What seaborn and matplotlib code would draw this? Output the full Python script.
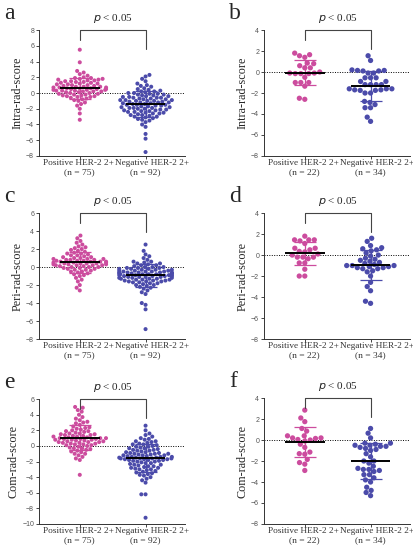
import numpy as np
import pandas as pd
import matplotlib
matplotlib.use("Agg")
import matplotlib.pyplot as plt
import matplotlib.transforms as mtransforms
import seaborn as sns

# groups and sizes
groups = ["Positive HER-2 2+", "Negative HER-2 2+"]
n_big = [75, 92]
n_small = [22, 34]

# a: intra-rad-score, training set
a_pos = [5.5, 3.9, 2.8, 2.6, 2.4, 2.2, 2.0, 1.9, 1.9, 1.8,
         1.8, 1.7, 1.7, 1.6, 1.6, 1.5, 1.5, 1.4, 1.4, 1.3,
         1.3, 1.2, 1.2, 1.1, 1.1, 1.0, 1.0, 0.9, 0.9, 0.8,
         0.8, 0.8, 0.7, 0.7, 0.7, 0.6, 0.6, 0.6, 0.5, 0.5,
         0.5, 0.4, 0.4, 0.4, 0.3, 0.3, 0.3, 0.2, 0.2, 0.2,
         0.1, 0.1, 0.0, 0.0, -0.1, -0.1, -0.2, -0.2, -0.3, -0.3,
         -0.4, -0.4, -0.5, -0.5, -0.6, -0.7, -0.8, -0.9, -1.0, -1.2,
         -1.4, -1.6, -2.0, -2.6, -3.4]
a_neg = [2.3, 2.1, 1.8, 1.5, 1.2, 1.0, 0.9, 0.8, 0.6, 0.5,
         0.4, 0.3, 0.2, 0.1, 0.0, 0.0, -0.1, -0.2, -0.2, -0.3,
         -0.4, -0.4, -0.5, -0.5, -0.6, -0.6, -0.7, -0.7, -0.8, -0.8,
         -0.9, -0.9, -1.0, -1.0, -1.0, -1.1, -1.1, -1.2, -1.2, -1.2,
         -1.3, -1.3, -1.4, -1.4, -1.5, -1.5, -1.6, -1.6, -1.7, -1.7,
         -1.8, -1.8, -1.9, -1.9, -2.0, -2.0, -2.1, -2.1, -2.2, -2.2,
         -2.3, -2.3, -2.4, -2.5, -2.5, -2.6, -2.6, -2.7, -2.8, -2.8,
         -2.9, -3.0, -3.0, -3.1, -3.2, -3.3, -3.4, -3.5, -3.7, -4.0,
         -4.3, -5.2, -5.8, -7.5, -0.3, -0.1, 0.2, -1.5, -0.9, -0.6,
         -1.9, -2.4]

# b: intra-rad-score, validation set
b_pos = [1.8, 1.65, 1.55, 1.4, 0.85, 0.8, 0.6, 0.4, 0.4, 0.0, -0.1,
         -0.1, -0.15, -0.15, -0.15, -0.5, -1.0, -1.0, -1.0, -1.35, -2.5, -2.6]
b_neg = [1.55, 1.1, 0.2, 0.15, 0.15, 0.1, 0.1, -0.1, -0.1, -0.55, -0.55,
         -0.55, -0.9, -0.9, -1.2, -1.2, -1.2, -1.2, -1.6, -1.6, -1.7, -1.7,
         -1.75, -1.75, -1.6, -2.0, -2.0, -2.8, -2.9, -3.1, -3.4, -3.4, -4.3, -4.7]

# c: peri-rad-score, training set
c_pos = [3.5, 3.2, 2.9, 2.7, 2.5, 2.3, 2.1, 2.0, 1.9, 1.8,
         1.7, 1.6, 1.5, 1.4, 1.3, 1.2, 1.1, 1.0, 1.0, 0.9,
         0.9, 0.8, 0.8, 0.7, 0.7, 0.7, 0.6, 0.6, 0.6, 0.5,
         0.5, 0.5, 0.4, 0.4, 0.4, 0.3, 0.3, 0.3, 0.2, 0.2,
         0.2, 0.1, 0.1, 0.0, 0.0, -0.1, -0.1, -0.2, -0.2, -0.3,
         -0.3, -0.4, -0.5, -0.6, -0.7, -0.8, -0.9, -1.0, -1.2, -1.4,
         -1.6, -2.0, -2.3, -2.6, 1.1, 0.8, 0.6, 0.4, 0.2, 0.0,
         -0.5, 1.5, 2.2, 1.3, 0.9]
c_neg = [2.5, 1.8, 1.2, 1.0, 0.8, 0.6, 0.5, 0.4, 0.3, 0.2,
         0.1, 0.0, 0.0, -0.1, -0.1, -0.2, -0.2, -0.3, -0.3, -0.4,
         -0.4, -0.5, -0.5, -0.5, -0.6, -0.6, -0.6, -0.7, -0.7, -0.7,
         -0.8, -0.8, -0.8, -0.9, -0.9, -0.9, -1.0, -1.0, -1.0, -1.1,
         -1.1, -1.1, -1.2, -1.2, -1.3, -1.3, -1.4, -1.4, -1.5, -1.5,
         -1.6, -1.6, -1.7, -1.7, -1.8, -1.9, -2.0, -2.1, -2.2, -2.3,
         -2.4, -2.6, -2.8, -3.0, -4.0, -4.2, -4.7, -6.9, 0.4, 0.2,
         0.0, -0.2, -0.4, -0.6, -0.8, -1.0, -1.2, -1.4, -1.6, -1.8,
         -0.3, -0.9, -1.3, -0.5, -0.1, -0.7, -1.1, -1.5, -2.0, -0.6,
         0.6, 1.4]

# d: peri-rad-score, validation set
d_pos = [1.8, 1.45, 1.45, 1.45, 1.35, 1.1, 0.65, 0.65, 0.5, 0.35, 0.3,
         0.1, 0.0, -0.2, -0.2, -0.2, -0.35, -0.75, -0.75, -1.35, -2.0, -2.0]
d_neg = [1.6, 1.3, 0.9, 0.7, 0.6, 0.5, 0.4, 0.2, 0.0, -0.1, -0.3, -0.4,
         -0.5, -0.6, -0.7, -0.8, -0.9, -1.0, -1.0, -1.0, -1.1, -1.1, -1.2,
         -1.2, -1.3, -1.3, -1.5, -1.6, -2.0, -2.6, -3.0, -3.4, -4.4, -4.6]

# e: com-rad-score, training set
e_pos = [5.0, 4.9, 4.6, 4.4, 4.0, 3.7, 3.5, 3.3, 3.1, 2.9,
         2.7, 2.5, 2.4, 2.2, 2.1, 2.0, 1.9, 1.8, 1.7, 1.6,
         1.5, 1.5, 1.4, 1.4, 1.3, 1.3, 1.2, 1.2, 1.1, 1.1,
         1.0, 1.0, 1.0, 0.9, 0.9, 0.9, 0.8, 0.8, 0.8, 0.7,
         0.7, 0.6, 0.6, 0.5, 0.5, 0.4, 0.4, 0.3, 0.3, 0.2,
         0.2, 0.1, 0.0, -0.1, -0.2, -0.3, -0.4, -0.5, -0.6, -0.7,
         -0.8, -1.0, -1.2, -1.4, -1.6, -1.8, -3.7, 1.6, 2.3, 3.0,
         0.1, -0.3, 1.9, 0.5, -1.0]
e_neg = [2.6, 2.0, 1.6, 1.4, 1.2, 1.0, 0.8, 0.6, 0.5, 0.4,
         0.3, 0.2, 0.1, 0.0, -0.1, -0.2, -0.3, -0.4, -0.5, -0.6,
         -0.7, -0.8, -0.8, -0.9, -0.9, -1.0, -1.0, -1.1, -1.1, -1.2,
         -1.2, -1.3, -1.3, -1.4, -1.4, -1.5, -1.5, -1.5, -1.6, -1.6,
         -1.6, -1.7, -1.7, -1.7, -1.8, -1.8, -1.9, -1.9, -2.0, -2.0,
         -2.1, -2.2, -2.3, -2.4, -2.5, -2.6, -2.7, -2.8, -2.9, -3.0,
         -3.1, -3.2, -3.3, -3.4, -3.5, -3.6, -3.7, -3.8, -4.0, -4.2,
         -4.4, -4.7, -6.2, -6.2, -9.2, 0.6, 0.2, -0.3, -0.6, -1.0,
         -1.4, -1.8, -2.2, -2.6, -3.0, -0.5, -1.2, -1.6, -2.4, 0.9,
         -0.1, -2.8]

# f: com-rad-score, validation set
f_pos = [2.85, 2.1, 1.75, 1.1, 0.85, 0.4, 0.4, 0.2, 0.2, 0.15, 0.05,
         0.0, -0.1, -0.4, -0.7, -1.15, -1.3, -1.35, -1.85, -2.15, -2.3, -2.9]
f_neg = [1.1, 0.65, 0.2, -0.3, -0.3, -0.4, -0.5, -0.5, -0.6, -0.6, -0.7,
         -0.8, -0.9, -1.0, -1.3, -1.6, -2.0, -2.0, -2.2, -2.5, -2.7, -2.8,
         -2.8, -2.9, -3.0, -3.3, -3.3, -3.6, -3.8, -4.0, -4.5, -4.8, -5.0, -5.3]

PINK = "#CC4C9E"
BLUE = "#4B4BAA"

# letter, ylabel, data, n, y limits, axes rect
panels = [
    ("a", "Intra-rad-score", a_pos, a_neg, n_big, (-8, 8), [0.0942, 0.7164, 0.3527, 0.229]),
    ("b", "Intra-rad-score", b_pos, b_neg, n_small, (-8, 4), [0.6377, 0.7164, 0.3527, 0.229]),
    ("c", "Peri-rad-score", c_pos, c_neg, n_big, (-8, 6), [0.0942, 0.3836, 0.3527, 0.229]),
    ("d", "Peri-rad-score", d_pos, d_neg, n_small, (-8, 4), [0.6377, 0.3836, 0.3527, 0.229]),
    ("e", "Com-rad-score", e_pos, e_neg, n_big, (-10, 6), [0.0942, 0.0473, 0.3527, 0.227]),
    ("f", "Com-rad-score", f_pos, f_neg, n_small, (-8, 4), [0.6377, 0.0473, 0.3527, 0.229]),
]

sns.set_style("ticks")
plt.rcParams["font.family"] = ["Liberation Serif", "DejaVu Serif"]

fig = plt.figure(figsize=(4.14, 5.5), dpi=100)

for letter, ylabel, pos, neg, ns, ylim, rect in panels:
    ax = fig.add_axes(rect)
    df = pd.DataFrame({
        "group": [groups[0]] * len(pos) + [groups[1]] * len(neg),
        "score": pos + neg,
    })
    small = len(pos) < 40
    sns.swarmplot(data=df, x="group", y="score", hue="group", order=groups,
                  palette=[PINK, BLUE], size=3.8 if small else 2.9,
                  ax=ax, legend=False, zorder=2)

    # mean and SD
    for i, (vals, col) in enumerate([(pos, PINK), (neg, BLUE)]):
        m = np.mean(vals)
        sd = np.std(vals, ddof=1)
        ax.errorbar(i, m, yerr=sd, color=col, lw=0.9, capsize=8,
                    capthick=0.9, zorder=3)
        ax.hlines(m, i - 0.3, i + 0.3, color="black", lw=1.4, zorder=4)

    ax.axhline(0, color="black", ls=(0, (1, 1.5)), lw=0.7, zorder=1)

    ax.set_xlim(-0.62, 1.6)
    ax.set_ylim(*ylim)
    ax.set_yticks(np.arange(ylim[0], ylim[1] + 1, 2))
    ax.set_xticks([0, 1])
    ax.set_xticklabels([f"(n = {n})" for n in ns], fontsize=6.8,
                       color="#333333")
    ax.tick_params(axis="y", labelsize=5, labelcolor="#555555", length=2,
                   width=0.6, pad=1.5)
    ax.tick_params(axis="x", length=2, width=0.6, pad=6.5)
    for lab in ax.get_yticklabels():
        lab.set_family(["Liberation Sans", "DejaVu Sans"])
    ax.set_xlabel("")
    ax.set_ylabel(ylabel, fontsize=8.7, labelpad=2)
    sns.despine(ax=ax)
    for s in ["left", "bottom"]:
        ax.spines[s].set_linewidth(0.7)
        ax.spines[s].set_color("#333333")

    # group names (first line of the category labels)
    trans_x = mtransforms.blended_transform_factory(ax.transData, ax.transAxes)
    for i, (g, shift) in enumerate(zip(groups, [-0.02, 0.1])):
        ax.text(i + shift, -0.022, g, transform=trans_x, ha="center",
                va="top", fontsize=6.7, color="#333333")

    # significance bracket
    ax.plot([0, 0, 1, 1], [0.92, 1.0, 1.0, 0.85], color="#444444", lw=0.8,
            transform=trans_x, clip_on=False)
    ax.text(0.5, 1.04, "$p$ < 0.05", transform=trans_x, ha="center",
            va="bottom", fontsize=8)

    # panel letter
    bb = ax.get_position()
    fig.text(bb.x0 - 0.085, bb.y1 + 0.03, letter, fontsize=17,
             ha="left", va="center")

fig.savefig("out.png", dpi=100)
